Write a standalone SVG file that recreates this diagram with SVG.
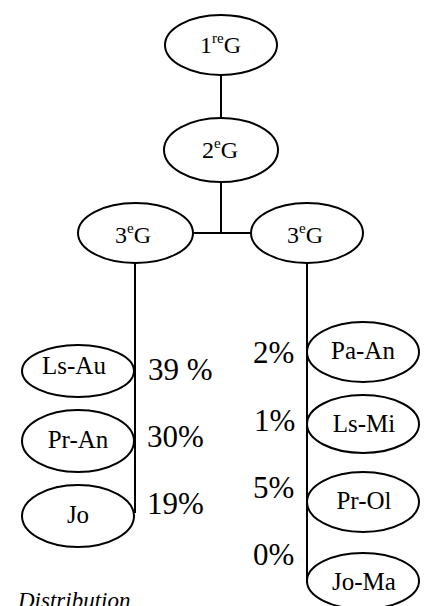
<svg xmlns="http://www.w3.org/2000/svg" width="425" height="606" viewBox="0 0 425 606">
<style>
.n{fill:#fff;stroke:#000;stroke-width:2}
.c{stroke:#000;stroke-width:2;fill:none}
text{font-family:'Liberation Serif','Times New Roman',serif;fill:#000}
.g{font-size:24px}
.s{font-size:15px}
.l{font-size:25px}
.p{font-size:31px}
.i{font-size:23px;font-style:italic}
</style>
<rect width="425" height="606" fill="#fff"/>
<g id="connectors">
<line class="c" x1="221" y1="75" x2="221" y2="118"/>
<line class="c" x1="221" y1="182" x2="221" y2="233"/>
<line class="c" x1="193" y1="233" x2="251" y2="233"/>
<line class="c" x1="135" y1="263" x2="135" y2="513"/>
<line class="c" x1="307" y1="263" x2="307" y2="583"/>
</g>
<g id="g1">
<ellipse class="n" cx="221" cy="45" rx="56" ry="30"/>
<text class="g" x="200" y="53">1<tspan class="s" dy="-10">re</tspan><tspan dy="10">G</tspan></text>
</g>
<g id="g2">
<ellipse class="n" cx="221" cy="150" rx="57" ry="32"/>
<text class="g" x="202" y="158">2<tspan class="s" dy="-10">e</tspan><tspan dy="10">G</tspan></text>
</g>
<g id="g3a">
<ellipse class="n" cx="135.5" cy="233" rx="57.5" ry="30"/>
<text class="g" x="115" y="243">3<tspan class="s" dy="-10">e</tspan><tspan dy="10">G</tspan></text>
</g>
<g id="g3b">
<ellipse class="n" cx="307" cy="233" rx="56" ry="30"/>
<text class="g" x="287" y="243">3<tspan class="s" dy="-10">e</tspan><tspan dy="10">G</tspan></text>
</g>
<g id="lsau">
<ellipse class="n" cx="78" cy="371" rx="56" ry="26"/>
<text class="l" x="74" y="374" text-anchor="middle">Ls-Au</text>
</g>
<g id="pran">
<ellipse class="n" cx="78" cy="441" rx="56" ry="31"/>
<text class="l" x="78" y="448" text-anchor="middle">Pr-An</text>
</g>
<g id="jo">
<ellipse class="n" cx="78" cy="516" rx="56" ry="31"/>
<text class="l" x="78" y="523" text-anchor="middle">Jo</text>
</g>
<g id="paan">
<ellipse class="n" cx="363" cy="352" rx="56" ry="30"/>
<text class="l" x="363" y="359" text-anchor="middle">Pa-An</text>
</g>
<g id="lsmi">
<ellipse class="n" cx="363" cy="424" rx="56" ry="29"/>
<text class="l" x="364" y="432" text-anchor="middle">Ls-Mi</text>
</g>
<g id="prol">
<ellipse class="n" cx="363" cy="502" rx="56" ry="30"/>
<text class="l" x="364" y="509" text-anchor="middle">Pr-Ol</text>
</g>
<g id="joma">
<ellipse class="n" cx="363" cy="581" rx="56" ry="28"/>
<text class="l" x="364" y="590" text-anchor="middle">Jo-Ma</text>
</g>
<g id="percent">
<text class="p" x="148" y="380">39 %</text>
<text class="p" x="147" y="447">30%</text>
<text class="p" x="147" y="514">19%</text>
<text class="p" x="253" y="363">2%</text>
<text class="p" x="254" y="431">1%</text>
<text class="p" x="253" y="498">5%</text>
<text class="p" x="253" y="565">0%</text>
</g>
<text class="i" x="18" y="608">Distribution</text>
</svg>
